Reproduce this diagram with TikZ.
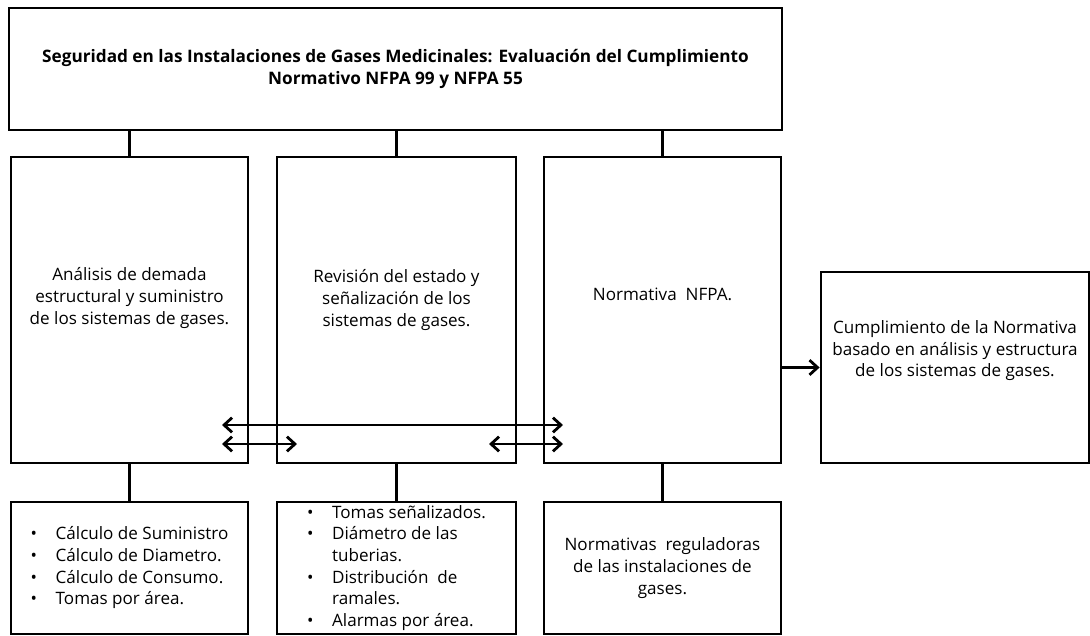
\documentclass[tikz,border=0pt]{standalone}
\usepackage{fontspec}
\setmainfont{Open Sans}
\usetikzlibrary{arrows.meta, positioning}

\begin{document}
\begin{tikzpicture}[x=0.75pt, y=-0.75pt,
    box/.style = {draw, line width=2.1pt, align=center, inner sep=2pt, font=\fontsize{12.8}{16.2}\selectfont},
    link/.style = {line width=2.1pt},
    tip/.style = {-{Straight Barb[length=6pt,width=11pt]}},
    dblarrow/.style = {line width=2.1pt, {Straight Barb[length=6pt,width=11pt]}-{Straight Barb[length=6pt,width=11pt]}}]
    \useasboundingbox (0,0) rectangle (1090,636);

    % cajas
    \node[box, minimum width=579.75pt, minimum height=91.5pt, font=\bfseries\fontsize{12.9}{16.5}\selectfont] (titulo) at (395.5,69)
        {Seguridad en las Instalaciones de Gases Medicinales: Evaluación del Cumplimiento\\Normativo NFPA 99 y NFPA 55};
    \node[box, minimum width=177.75pt, minimum height=229.5pt, text depth=21pt] (analisis) at (129.5,310)
        {Análisis de demada\\estructural y suministro\\de los sistemas de gases.};
    \node[box, minimum width=179.25pt, minimum height=229.5pt, text depth=18pt] (revision) at (396.5,310)
        {Revisión del estado y\\señalización de los\\sistemas de gases.};
    \node[box, minimum width=177.75pt, minimum height=229.5pt, text depth=24pt] (normativa) at (662.5,310)
        {Normativa~~NFPA.};
    \node[box, minimum width=201pt, minimum height=143.25pt, text depth=28pt] (cumplimiento) at (955,367.5)
        {Cumplimiento de la Normativa\\basado en análisis y estructura\\de los sistemas de gases.};

    \node[box, minimum width=177.75pt, minimum height=99pt] (calculos) at (129.5,568)
        {\begin{tabular}{@{}l@{\hspace{14pt}}l@{}}
         • & Cálculo de Suministro\\
         • & Cálculo de Diametro.\\
         • & Cálculo de Consumo.\\
         • & Tomas por área.
         \end{tabular}};
    \node[box, minimum width=179.25pt, minimum height=99pt, inner sep=0pt] (tomas) at (396.5,568)
        {\begin{tabular}{@{}l@{\hspace{14pt}}l@{}}
         • & Tomas señalizados.\\
         • & Diámetro de las\\
           & tuberias.\\
         • & Distribución~~de\\
           & ramales.\\
         • & Alarmas por área.
         \end{tabular}};
    \node[box, minimum width=177.75pt, minimum height=99pt] (reguladoras) at (662.5,568)
        {Normativas~~reguladoras\\de las instalaciones de\\gases.};

    % conectores
    \draw[link] (titulo.south -| analisis.north) -- (analisis.north);
    \draw[link] (titulo.south -| revision.north) -- (revision.north);
    \draw[link] (titulo.south -| normativa.north) -- (normativa.north);
    \draw[link] (analisis.south) -- (calculos.north);
    \draw[link] (revision.south) -- (tomas.north);
    \draw[link] (normativa.south) -- (reguladoras.north);
    \draw[link, tip] (cumplimiento.west -| normativa.east) -- (cumplimiento.west);

    % flechas dobles
    \coordinate (f1a) at (222,425);
    \coordinate (f1b) at (563,425);
    \coordinate (f2a) at (222,444);
    \coordinate (f2b) at (297,444);
    \coordinate (f3a) at (489,444);
    \coordinate (f3b) at (563,444);
    \draw[dblarrow] (f1a) -- (f1b);
    \draw[dblarrow] (f2a) -- (f2b);
    \draw[dblarrow] (f3a) -- (f3b);
\end{tikzpicture}
\end{document}
